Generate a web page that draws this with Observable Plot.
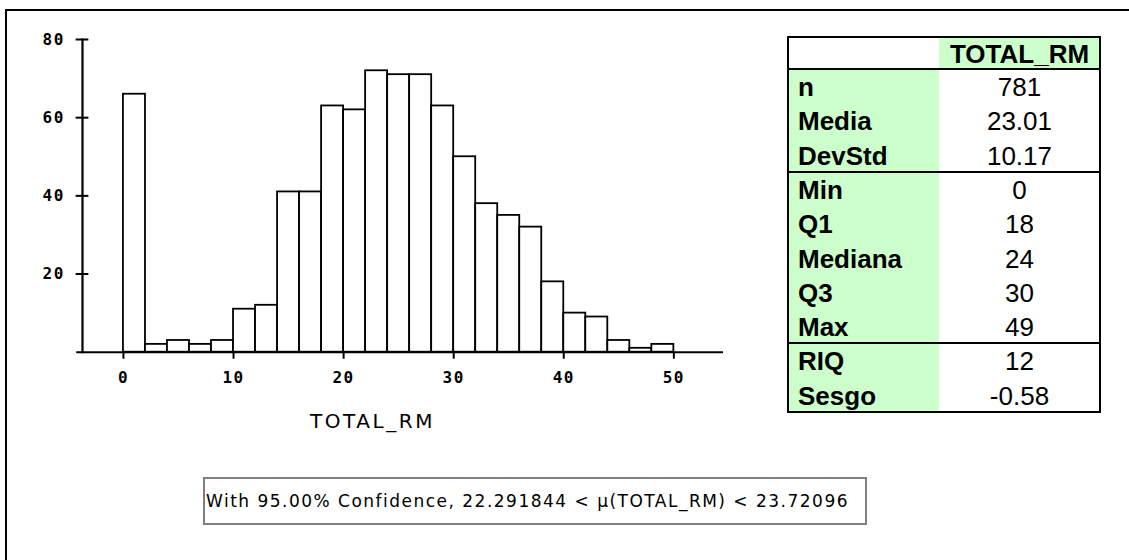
<!DOCTYPE html>
<html><head><meta charset="utf-8">
<script src="https://cdn.jsdelivr.net/npm/d3@7"></script>
<script src="https://cdn.jsdelivr.net/npm/@observablehq/plot@0.6"></script>
<style>
html,body{margin:0;padding:0;background:#fff;}
#wrap{position:relative;width:1129px;height:560px;overflow:hidden;background:#fff;}
#frame{position:absolute;left:5px;top:9px;width:1300px;height:700px;border-top:2px solid #000;border-left:2px solid #000;}
#chart{position:absolute;left:0;top:0;width:1129px;height:560px;}
#xlabel{position:absolute;left:310px;top:409px;height:24px;line-height:24px;font-family:"DejaVu Sans",sans-serif;font-size:20px;white-space:nowrap;color:#000;}
#ci{position:absolute;left:203px;top:477px;width:664px;height:48px;box-sizing:border-box;border:2px solid #7f7f7f;}
#citext{position:absolute;left:206px;top:489px;height:24px;line-height:24px;font-family:"DejaVu Sans",sans-serif;font-size:17px;white-space:nowrap;color:#000;}
.cell{position:absolute;box-sizing:border-box;font-family:"Liberation Sans",Arial,sans-serif;font-size:26px;color:#000;white-space:nowrap;}
.line{position:absolute;background:#000;}
</style></head>
<body>
<div id="wrap">
  <div id="frame"></div>
  <div id="chart"></div>
  <div id="xlabel"></div>
  <div id="ci"></div>
  <div id="citext"></div>
  <div id="table"></div>
</div>
<script>
// ---- histogram data (bins of width 2) ----
const binLo  = [0,2,4,6,8,10,12,14,16,18,20,22,24,26,28,30,32,34,36,38,40,42,44,46,48];
const counts = [66,2,3,2,3,11,12,41,41,63,62,72,71,71,63,50,38,35,32,18,10,9,3,1,2];
const binWidth = 2;
const xTicks = [0,10,20,30,40,50];
const yTicks = [20,40,60,80];
const varName = "TOTAL_RM";

// ---- summary table ----
const statLabels = ["n","Media","DevStd","Min","Q1","Mediana","Q3","Max","RIQ","Sesgo"];
const statValues = ["781","23.01","10.17","0","18","24","30","49","12","-0.58"];
const groupBreaks = [3,8];

const ciText = "With 95.00% Confidence, 22.291844 < \u00b5(TOTAL_RM) < 23.72096";

const bins = binLo.map((lo,i)=>({lo, hi: lo + binWidth, count: counts[i]}));

// x domain starts at the y-axis position; the x-axis line overhangs a little to the left
const yAxisAt = -3.72, xHi = 54.51, xOver = -4.241, tickL = -4.30, tickR = -3.14;
const yTop = yTicks[yTicks.length - 1];

const plot = Plot.plot({
  width: 1129, height: 560,
  marginLeft: 82, marginRight: 406, marginTop: 39, marginBottom: 208.3,
  style: {fontFamily: "'DejaVu Sans Mono', monospace", fontSize: "16px", fontWeight: "bold", letterSpacing: "1.5px", background: "transparent", color: "#000", overflow: "visible"},
  x: {domain: [yAxisAt, xHi]},
  y: {domain: [0, yTop], axis: null},
  marks: [
    Plot.rect(bins, {x1: "lo", x2: "hi", y1: 0, y2: "count", fill: "white", stroke: "black", strokeWidth: 1.8}),
    Plot.frame({anchor: "left", stroke: "black", strokeWidth: 2.2}),
    Plot.ruleY([0], {x1: () => xOver, x2: () => xHi, stroke: "black", strokeWidth: 2}),
    Plot.ruleY(yTicks, {y: d => d, x1: () => tickL, x2: () => tickR, stroke: "black", strokeWidth: 2}),
    Plot.text(yTicks, {x: () => xOver, y: d => d, text: d => String(d), textAnchor: "end", dx: -12, fill: "#000", fontSize: 16}),
    Plot.axisX({ticks: xTicks, tickSize: 7, tickPadding: 12, strokeWidth: 2, stroke: "black", label: null, tickFormat: d => String(d), fill: "#000", fontSize: 16})
  ]
});
document.getElementById("chart").appendChild(plot);

// fit text to measured widths
function fit(el, text, font, width){
  const c = document.createElement("canvas").getContext("2d");
  c.font = font;
  const w = c.measureText(text).width;
  el.textContent = text;
  el.style.letterSpacing = ((width - w) / text.length) + "px";
}
fit(document.getElementById("xlabel"), varName, "20px 'DejaVu Sans'", 125);
fit(document.getElementById("citext"), ciText, "17px 'DejaVu Sans'", 643);

// build table
const T = document.getElementById("table");
const L = 788, R = 1100, top0 = 37, headH = 32, split = 939, bottom = 412;
const bodyTop = top0 + headH;
const rowH = (bottom - bodyTop) / statLabels.length;
function add(cls, css, text){ const d = document.createElement("div"); d.className = cls; Object.assign(d.style, css); if (text != null) d.textContent = text; T.appendChild(d); return d; }
add("cell", {left: L+"px", top: bodyTop+"px", width: (split-L)+"px", height: (bottom-bodyTop)+"px", background: "#ccffcc"});
add("cell", {left: split+"px", top: top0+"px", width: (R-split)+"px", height: headH+"px", background: "#ccffcc"});
add("cell", {left: split+"px", top: top0+"px", width: (R-split)+"px", height: headH+"px", lineHeight: (headH+2)+"px", textAlign: "center", fontWeight: "bold"}, varName);
statLabels.forEach((lab, i) => {
  const y = bodyTop + rowH * i;
  add("cell", {left: (L+10)+"px", top: y+"px", height: rowH+"px", lineHeight: (rowH+2)+"px", fontWeight: "bold"}, lab);
  add("cell", {left: split+"px", top: y+"px", width: (R-split)+"px", height: rowH+"px", lineHeight: (rowH+2)+"px", textAlign: "center"}, statValues[i]);
});
add("line", {left: (L-1)+"px", top: (top0-1)+"px", width: (R-L+2)+"px", height: "2px"});
add("line", {left: (L-1)+"px", top: (bottom-1)+"px", width: (R-L+2)+"px", height: "2px"});
add("line", {left: (L-1)+"px", top: (top0-1)+"px", width: "2px", height: (bottom-top0+2)+"px"});
add("line", {left: (R-1)+"px", top: (top0-1)+"px", width: "2px", height: (bottom-top0+2)+"px"});
add("line", {left: (L-1)+"px", top: (bodyTop-1)+"px", width: (R-L+2)+"px", height: "2px"});
groupBreaks.forEach(k => add("line", {left: (L-1)+"px", top: (bodyTop + rowH*k - 1)+"px", width: (R-L+2)+"px", height: "2px"}));
</script>
</body></html>
